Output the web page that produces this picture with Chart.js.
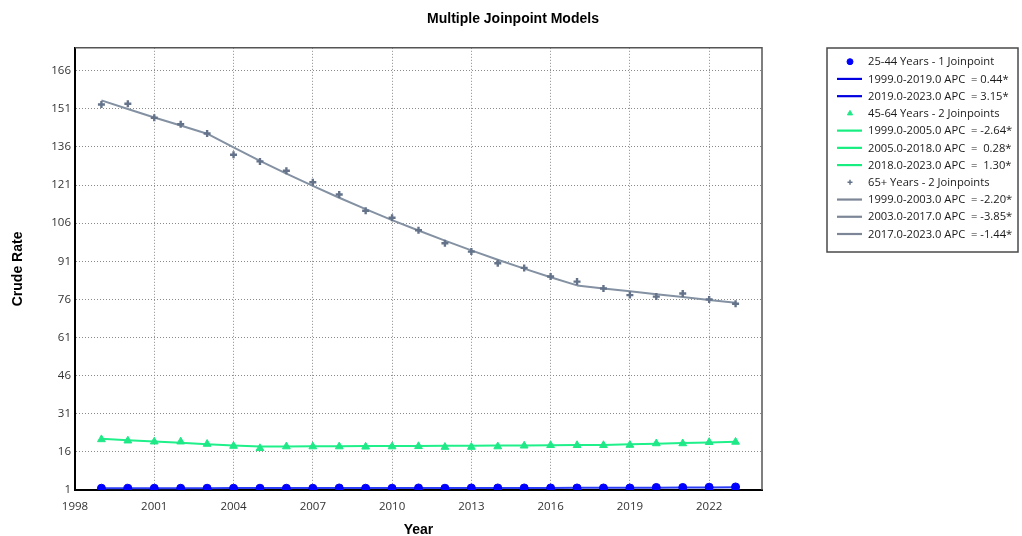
<!DOCTYPE html>
<html>
<head>
<meta charset="utf-8">
<script src="https://cdn.jsdelivr.net/npm/chart.js@4.4.1/dist/chart.umd.min.js"></script>
<style>
  html, body { margin: 0; padding: 0; background: #fff; }
</style>
</head>
<body>
<canvas id="chart" width="1022" height="536"></canvas>
<script>
// Years and axis ticks
const years = [1999, 2000, 2001, 2002, 2003, 2004, 2005, 2006, 2007, 2008, 2009, 2010, 2011,
  2012, 2013, 2014, 2015, 2016, 2017, 2018, 2019, 2020, 2021, 2022, 2023];
const xTicks = [1998, 2001, 2004, 2007, 2010, 2013, 2016, 2019, 2022];
const yTicks = [1, 16, 31, 46, 61, 76, 91, 106, 121, 136, 151, 166];

// 25-44 years
const rate2544 = [1.7, 1.7, 1.7, 1.7, 1.7, 1.7, 1.7, 1.7, 1.7, 1.8, 1.7, 1.7, 1.8,
  1.7, 1.8, 1.8, 1.8, 1.8, 1.8, 1.8, 1.8, 2.0, 2.0, 2.1, 2.2];
const fit2544 = [1.70, 1.71, 1.71, 1.72, 1.73, 1.74, 1.74, 1.75, 1.76, 1.77, 1.77, 1.78, 1.79,
  1.80, 1.80, 1.81, 1.82, 1.83, 1.84, 1.85, 1.85, 1.91, 1.97, 2.03, 2.10];
const joins2544 = [1999, 2019, 2023];
const apc2544 = ["0.44", "3.15"];

// 45-64 years
const rate4564 = [20.9, 20.4, 20.0, 20.0, 19.1, 18.3, 17.4, 18.1, 18.1, 18.1, 18.0, 18.1, 18.2,
  17.9, 17.9, 18.1, 18.4, 18.6, 18.6, 18.6, 18.7, 19.3, 19.3, 19.8, 19.9];
const fit4564 = [21.2, 20.6, 20.1, 19.6, 19.0, 18.5, 18.1, 18.1, 18.2, 18.2, 18.3, 18.3, 18.3,
  18.4, 18.4, 18.5, 18.5, 18.6, 18.7, 18.7, 19.0, 19.2, 19.5, 19.7, 20.0];
const joins4564 = [1999, 2005, 2018, 2023];
const apc4564 = ["-2.64", " 0.28", " 1.30"];

// 65+ years
const rate65 = [152.7, 153.0, 147.5, 144.9, 141.3, 132.9, 130.3, 126.6, 122.1, 117.3, 110.9, 108.1, 103.2,
  98.1, 94.8, 90.2, 88.4, 85.0, 83.0, 80.3, 77.7, 77.1, 78.3, 76.0, 74.3];
const fit65 = [154.3, 150.9, 147.6, 144.4, 141.2, 135.8, 130.5, 125.5, 120.7, 116.0, 111.5, 107.2, 103.1,
  99.1, 95.3, 91.6, 88.1, 84.7, 81.5, 80.3, 79.2, 78.0, 76.9, 75.8, 74.7];
const joins65 = [1999, 2003, 2017, 2023];
const apc65 = ["-2.20", "-3.85", "-1.44"];

const groups = [
  { name: "25-44 Years - 1 Joinpoint", rates: rate2544, fit: fit2544, joins: joins2544, apc: apc2544,
    style: "circle", radius: 4, legendRadius: 3, border: 1, color: "#0000ff", line: "#2a3cf5", legendLine: "#0000e0" },
  { name: "45-64 Years - 2 Joinpoints", rates: rate4564, fit: fit4564, joins: joins4564, apc: apc4564,
    style: "triangle", radius: 4.5, legendRadius: 3, border: 1, color: "#1fe887", line: "#1ff08a", legendLine: "#17ee80" },
  { name: "65+ Years - 2 Joinpoints", rates: rate65, fit: fit65, joins: joins65, apc: apc65,
    style: "cross", radius: 3.5, legendRadius: 2.5, border: 2.4, color: "#64738a", line: "#8391a2", legendLine: "#7c8696" },
];

// Build datasets: point series followed by its fitted segments
const datasets = [];
groups.forEach((g) => {
  datasets.push({
    label: g.name,
    data: years.map((y, i) => ({ x: y, y: g.rates[i] })),
    showLine: false,
    pointStyle: g.style,
    pointRadius: g.radius,
    pointBorderWidth: g.border,
    backgroundColor: g.color,
    borderColor: g.color,
    legendRadius: g.legendRadius,
    yAxisID: "y",
    order: 0,
  });
  for (let s = 0; s < g.joins.length - 1; s++) {
    const from = g.joins[s], to = g.joins[s + 1];
    datasets.push({
      label: `${from.toFixed(1)}-${to.toFixed(1)} APC  = ${g.apc[s]}*`,
      data: years.map((y, i) => ({ x: y, y: g.fit[i] })).filter((p) => p.x >= from && p.x <= to),
      showLine: true,
      borderColor: g.line,
      legendColor: g.legendLine,
      borderWidth: 2,
      pointRadius: 0,
      tension: 0,
      yAxisID: "y",
      order: 1,
    });
  }
});

// Boxed legend on the right
const boxLegend = {
  id: "boxLegend",
  afterDraw(chart) {
    const ctx = chart.ctx;
    const left = 827, top = 48, width = 191, height = 204;
    ctx.save();
    ctx.strokeStyle = "#4a4a4a";
    ctx.lineWidth = 1.5;
    ctx.strokeRect(left, top, width, height);
    ctx.font = '11.2px "Open Sans"';
    ctx.textBaseline = "middle";
    chart.data.datasets.forEach((ds, i) => {
      const y = top + 13.7 + i * 17.23;
      if (ds.showLine === false) {
        ctx.fillStyle = ds.backgroundColor;
        ctx.strokeStyle = ds.borderColor;
        ctx.lineWidth = ds.pointStyle === "cross" ? 1.5 : 1;
        Chart.helpers.drawPoint(ctx, { pointStyle: ds.pointStyle, radius: ds.legendRadius, borderWidth: 1, rotation: 0 }, 850, y);
      } else {
        ctx.strokeStyle = ds.legendColor;
        ctx.lineWidth = 2.2;
        ctx.beginPath();
        ctx.moveTo(837, y);
        ctx.lineTo(862, y);
        ctx.stroke();
      }
      ctx.fillStyle = "#1a1a1a";
      ctx.fillText(ds.label, 868, y + 0.5);
    });
    ctx.restore();
  },
};

// Top and right frame of the plot area
const plotFrame = {
  id: "plotFrame",
  afterDatasetsDraw(chart) {
    const { ctx, chartArea } = chart;
    ctx.save();
    ctx.strokeStyle = "#555";
    ctx.lineWidth = 1.5;
    ctx.beginPath();
    ctx.moveTo(chartArea.left, chartArea.top);
    ctx.lineTo(chartArea.right, chartArea.top);
    ctx.lineTo(chartArea.right, chartArea.bottom);
    ctx.stroke();
    ctx.restore();
  },
};

const tickFont = { family: "Open Sans", size: 11.5 };
const titleFont = { family: "Liberation Sans", size: 14, weight: "bold" };

new Chart(document.getElementById("chart"), {
  type: "scatter",
  data: { datasets },
  options: {
    responsive: false,
    animation: false,
    layout: { padding: { left: 4, right: 0, top: 11, bottom: 0 } },
    plugins: {
      legend: { display: false },
      tooltip: { enabled: false },
      title: {
        display: true,
        text: "Multiple Joinpoint Models",
        color: "#000",
        font: titleFont,
        padding: { top: 0, bottom: 20 },
      },
    },
    scales: {
      x: {
        type: "linear",
        min: 1998,
        max: 2024,
        afterBuildTicks: (scale) => { scale.ticks = xTicks.map((v) => ({ value: v })); },
        afterFit: (scale) => { scale.height = 46; },
        ticks: { font: tickFont, color: "#333", padding: 10, maxRotation: 0, autoSkip: false, callback: (v) => String(v) },
        grid: { color: "#8a8a8a", lineWidth: 1, drawTicks: false },
        border: { color: "#000", width: 2, dash: [1, 2] },
        title: { display: true, text: "Year", color: "#000", font: titleFont, padding: { top: 0, bottom: -3 } },
      },
      y: {
        type: "linear",
        min: 1,
        max: 175,
        afterBuildTicks: (scale) => { scale.ticks = yTicks.map((v) => ({ value: v })); },
        afterFit: (scale) => { scale.width = 71; },
        ticks: { font: tickFont, color: "#333", padding: 4, autoSkip: false, callback: (v) => String(v) },
        grid: { color: "#8a8a8a", lineWidth: 1, drawTicks: false },
        border: { color: "#000", width: 2, dash: [1, 2] },
        title: { display: true, text: "Crude Rate", color: "#000", font: titleFont, padding: { top: 6, bottom: 0 } },
      },
      // empty right-side space that holds the legend box
      side: {
        type: "linear",
        position: "right",
        min: 0,
        max: 1,
        afterFit: (scale) => { scale.width = 260; },
        ticks: { display: false },
        grid: { display: false, drawTicks: false },
        border: { display: false },
      },
    },
  },
  plugins: [boxLegend, plotFrame],
});
</script>
</body>
</html>
